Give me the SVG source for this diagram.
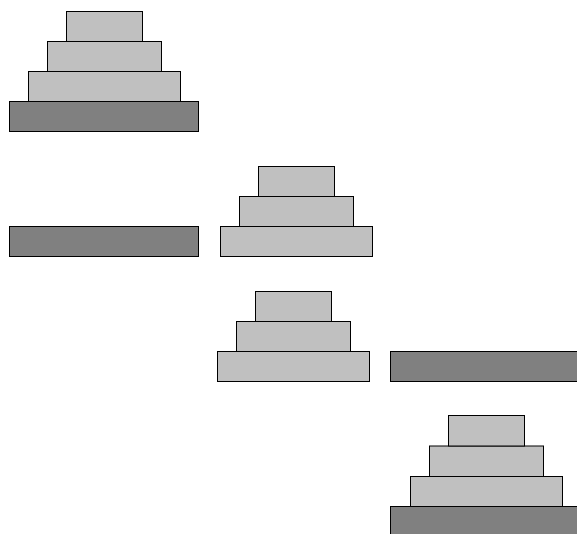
<svg xmlns="http://www.w3.org/2000/svg" width="577" height="534" viewBox="0 0 577 534">
<style>
.l{fill:#c0c0c0;stroke:#000;stroke-width:1}
.d{fill:#808080;stroke:#000;stroke-width:1}
</style>
<rect width="577" height="534" fill="#fff"/>
<g id="state1">
<rect class="d" x="9.5" y="101.5" width="189" height="30"/>
<rect class="l" x="28.5" y="71.5" width="152" height="30"/>
<rect class="l" x="47.5" y="41.5" width="114" height="30"/>
<rect class="l" x="66.5" y="11.5" width="76" height="30"/>
</g>
<g id="state2">
<rect class="d" x="9.5" y="226.5" width="189" height="30"/>
<rect class="l" x="220.5" y="226.5" width="152" height="30"/>
<rect class="l" x="239.5" y="196.5" width="114" height="30"/>
<rect class="l" x="258.5" y="166.5" width="76" height="30"/>
</g>
<g id="state3">
<rect class="l" x="217.5" y="351.5" width="152" height="30"/>
<rect class="l" x="236.5" y="321.5" width="114" height="30"/>
<rect class="l" x="255.5" y="291.5" width="76" height="30"/>
<rect class="d" x="390.5" y="351.5" width="189" height="30"/>
</g>
<g id="state4">
<rect class="d" x="390.5" y="506.5" width="189" height="30"/>
<rect class="l" x="410.5" y="476.5" width="152" height="30"/>
<rect class="l" x="429.5" y="446" width="114" height="30.5"/>
<rect class="l" x="448.5" y="415.5" width="76" height="30.5"/>
</g>
</svg>
